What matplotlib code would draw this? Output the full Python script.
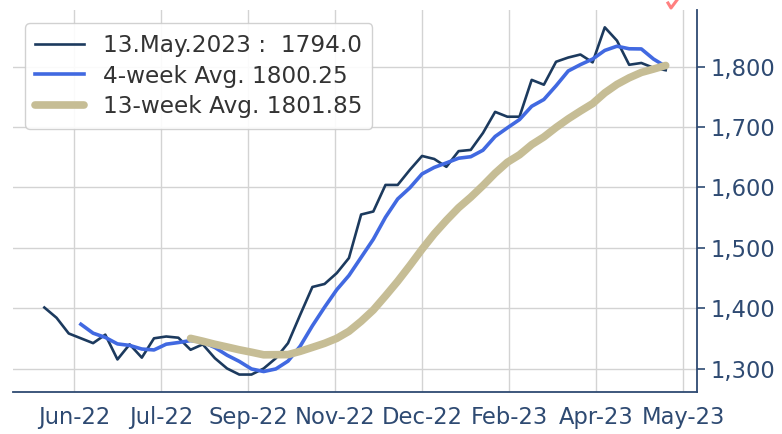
import matplotlib
matplotlib.use("Agg")
import matplotlib.pyplot as plt
import matplotlib.dates as mdates
from matplotlib.lines import Line2D
from matplotlib.ticker import FuncFormatter, MultipleLocator
import pandas as pd

# weekly values, last week ending 13 May 2023
dates = pd.date_range(end="2023-05-13", periods=52, freq="7D")
weekly = [1401, 1384, 1358, 1350, 1342, 1356, 1315, 1340, 1318, 1350,
          1353, 1351, 1331, 1340, 1317, 1300, 1290, 1290, 1300, 1317,
          1342, 1389, 1435, 1440, 1458, 1483, 1555, 1560, 1604, 1604,
          1629, 1652, 1647, 1634, 1660, 1662, 1690, 1725, 1717, 1717,
          1778, 1770, 1808, 1815, 1820, 1807, 1865, 1843, 1803, 1806,
          1798, 1794]
# 4-week average, starts at week 4
avg4 = [1373.25, 1358.5, 1351.5, 1340.75, 1338.25, 1332.25, 1330.75, 1340.25,
        1343.0, 1346.25, 1343.75, 1334.75, 1322.0, 1311.75, 1299.25, 1295.0,
        1299.25, 1312.25, 1337.0, 1370.75, 1401.5, 1430.5, 1454.0, 1484.0,
        1514.0, 1550.5, 1580.75, 1599.25, 1622.25, 1633.0, 1640.5, 1648.25,
        1650.75, 1661.5, 1684.25, 1698.5, 1712.25, 1734.25, 1745.5, 1768.25,
        1792.75, 1803.25, 1812.5, 1826.75, 1833.75, 1829.5, 1829.25, 1812.5,
        1800.25]
# 13-week average, starts at week 13
avg13 = [1349.92, 1345.23, 1340.08, 1335.62, 1331.0, 1327.0, 1322.69, 1322.85,
         1323.0, 1328.46, 1335.0, 1341.69, 1349.92, 1361.62, 1378.15, 1396.85,
         1420.23, 1444.38, 1470.46, 1497.54, 1522.92, 1545.38, 1566.23, 1583.69,
         1602.92, 1623.46, 1641.46, 1653.92, 1670.69, 1683.46, 1699.15, 1713.46,
         1726.38, 1738.69, 1756.46, 1770.54, 1781.38, 1790.31, 1795.92, 1801.85]

NAVY = "#1c3a5e"
AXIS = "#2e4a72"

fig = plt.figure(figsize=(7.82, 4.34), dpi=100)
ax = fig.add_axes([0.017, 0.097, 0.874, 0.880])

ax.plot(dates, weekly, color=NAVY, lw=1.9,
        label=f"13.May.2023 :  {weekly[-1]:.1f}")
ax.plot(dates[3:], avg4, color="#4169e1", lw=2.6,
        label=f"4-week Avg. {avg4[-1]:.2f}")
ax.plot(dates[12:], avg13, color="#c6bd95", lw=5.5, solid_capstyle="round",
        label=f"13-week Avg. {avg13[-1]:.2f}")

ax.xaxis.set_major_locator(MultipleLocator(50))
ax.xaxis.set_major_formatter(mdates.DateFormatter("%b-%y"))
ax.yaxis.set_major_locator(MultipleLocator(100))
ax.yaxis.set_major_formatter(FuncFormatter(lambda v, p: f"{v:,.0f}"))
ax.yaxis.tick_right()

ax.spines["left"].set_visible(False)
ax.spines["top"].set_visible(False)
for s in ("bottom", "right"):
    ax.spines[s].set_color(AXIS)
    ax.spines[s].set_linewidth(1.3)
ax.tick_params(axis="x", length=0, pad=10, labelsize=16.3, labelcolor=AXIS)
ax.tick_params(axis="y", length=6, width=1.2, color=AXIS, pad=4,
               labelsize=16.3, labelcolor=AXIS)
ax.grid(True, color="#d3d3d3", lw=1.0)

ax.legend(loc="upper left", fontsize=16.7, bbox_to_anchor=(0.0, 0.995),
          framealpha=0.9, edgecolor="#cccccc", handlelength=2.1,
          labelspacing=0.33, borderpad=0.45, labelcolor="#333333")

# small red mark clipped at the top edge
fig.add_artist(Line2D([668 / 782, 671 / 782, 677 / 782],
                      [1 - 3 / 434, 1 - 8 / 434, 1.0],
                      color="#ff8080", lw=2.2, transform=fig.transFigure))

fig.savefig("out.png", dpi=100)
